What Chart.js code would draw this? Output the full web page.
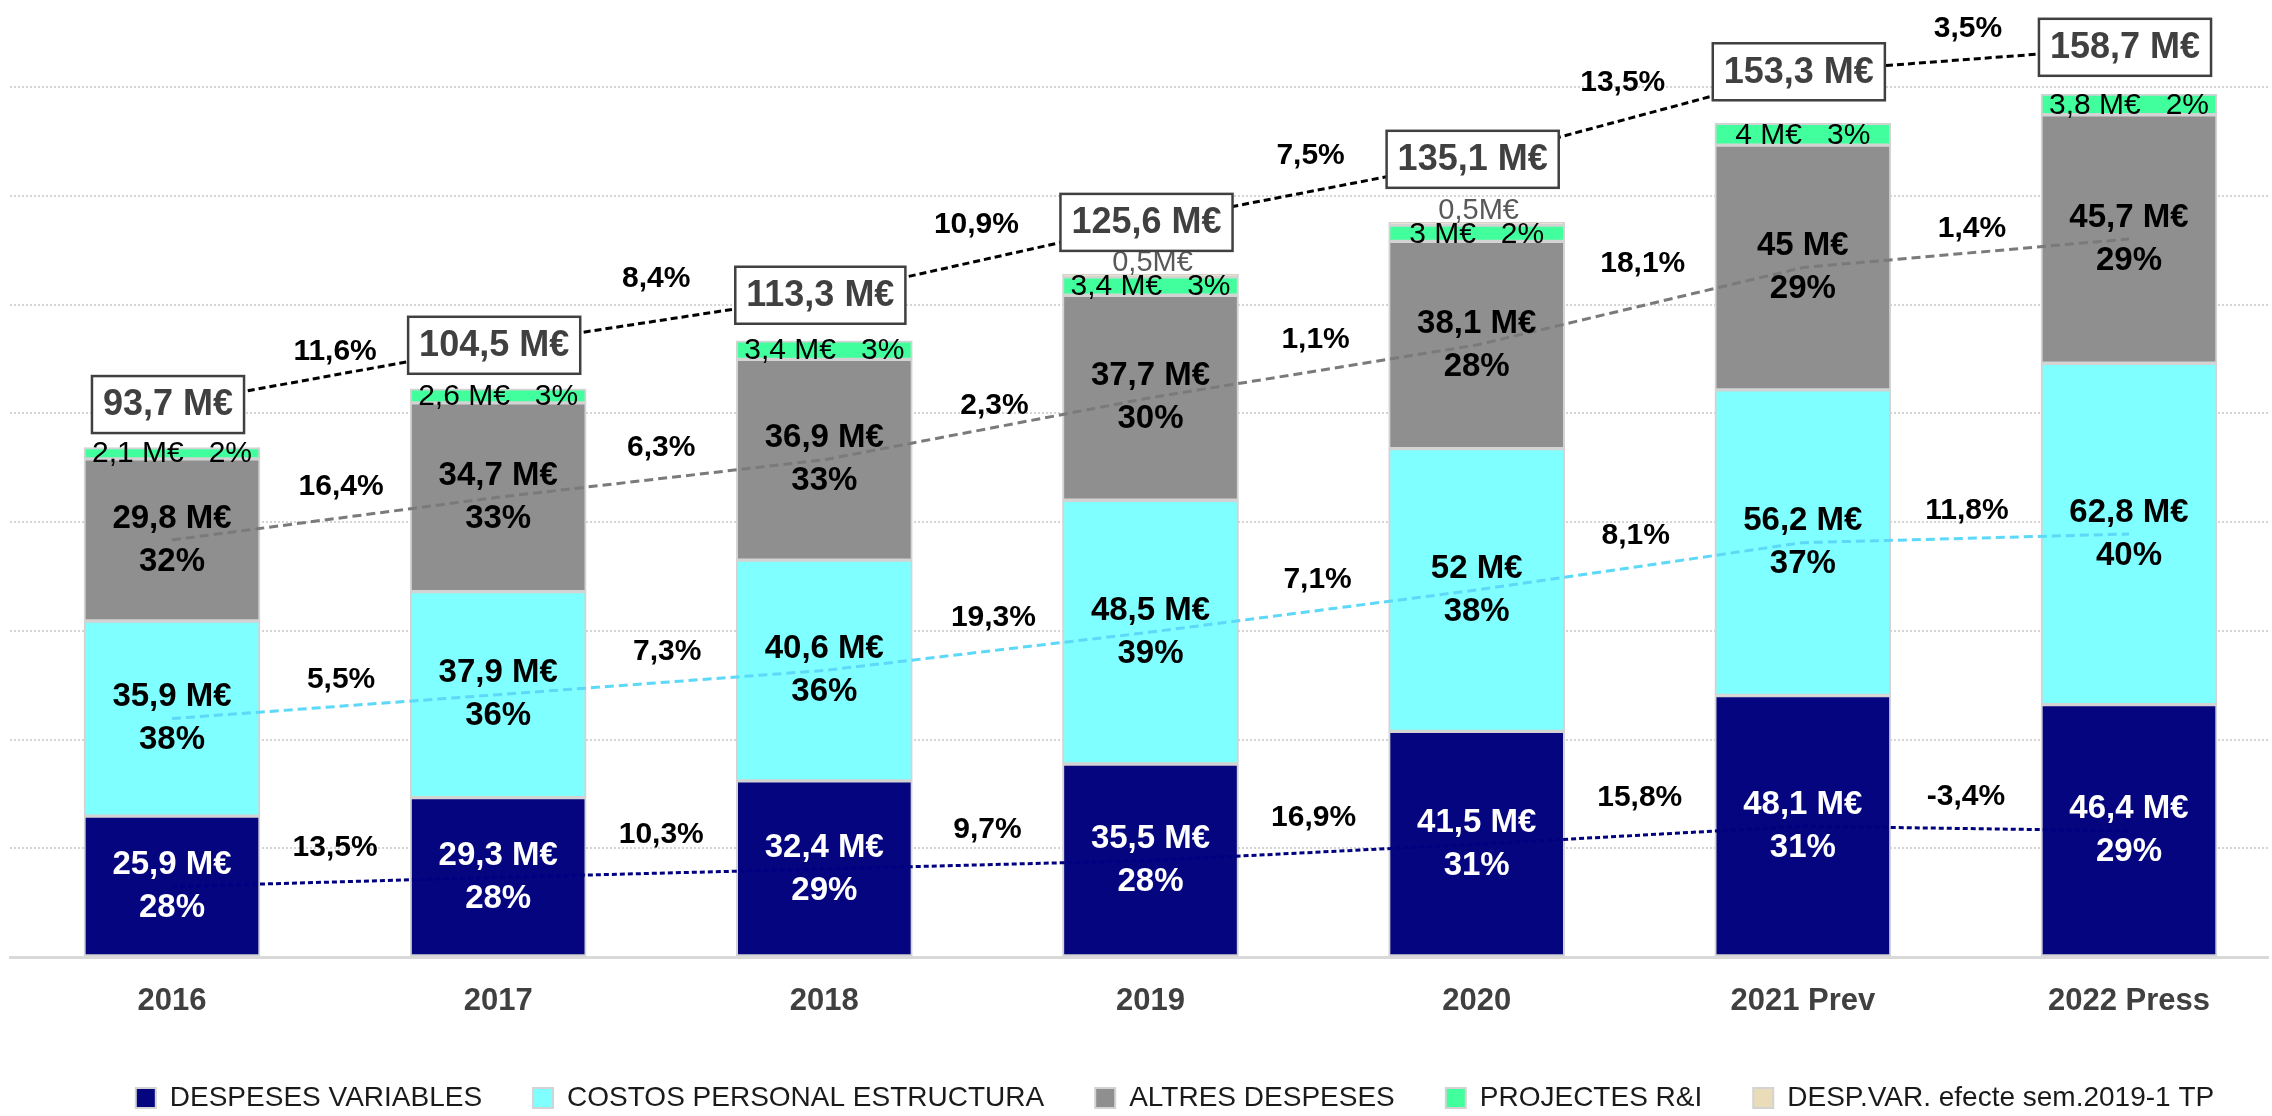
<!DOCTYPE html>
<html>
<head>
<meta charset="utf-8">
<script src="https://cdn.jsdelivr.net/npm/chart.js@4/dist/chart.umd.min.js"></script>
<style>
  html, body { margin: 0; padding: 0; background: #ffffff; }
  #wrap { width: 2272px; height: 1116px; }
</style>
</head>
<body>
<div id="wrap"><canvas id="c" width="2272" height="1116"></canvas></div>
<script>
// ---------- DATA ----------
const categories = ['2016', '2017', '2018', '2019', '2020', '2021 Prev', '2022 Press'];
const despesesVariables = [25.9, 29.3, 32.4, 35.5, 41.5, 48.1, 46.4];
const costosPersonal   = [35.9, 37.9, 40.6, 48.5, 52, 56.2, 62.8];
const altresDespeses   = [29.8, 34.7, 36.9, 37.7, 38.1, 45, 45.7];
const projectesRI      = [2.1, 2.6, 3.4, 3.4, 3, 4, 3.8];
const despVarEfecte    = [null, null, null, 0.5, 0.5, null, null];
const totals           = [93.7, 104.5, 113.3, 125.6, 135.1, 153.3, 158.7];
// level of the dashed total line (where the total boxes sit)
const totalLine        = [101.6, 112.5, 121.7, 135.1, 146.7, 162.8, 167.3];

const pctDespeses  = ['28%', '28%', '29%', '28%', '31%', '31%', '29%'];
const pctCostos    = ['38%', '36%', '36%', '39%', '38%', '37%', '40%'];
const pctAltres    = ['32%', '33%', '33%', '30%', '28%', '29%', '29%'];
const pctProjectes = ['2%', '3%', '3%', '3%', '2%', '3%', '2%'];

const growthDespeses = ['13,5%', '10,3%', '9,7%', '16,9%', '15,8%', '-3,4%'];
const growthCostos   = ['5,5%', '7,3%', '19,3%', '7,1%', '8,1%', '11,8%'];
const growthAltres   = ['16,4%', '6,3%', '2,3%', '1,1%', '18,1%', '1,4%'];
const growthTotal    = ['11,6%', '8,4%', '10,9%', '7,5%', '13,5%', '3,5%'];

// ---------- LAYOUT / STYLE (not data) ----------
const FONT = "'Liberation Sans', Arial, sans-serif";
const labelLayout = {
  despeses: { dy: [-34, -38, -35, -35, -37, -32], dx: [0, 0, 0, 0, 0, 0] },
  costos:   { dy: [-27, -31, -34, -31, -31, -28], dx: [6, 6, 6, 4, -4, 1] },
  altres:   { dy: [-32, -31, -23, -32, -43, -25], dx: [6, 0, 7, 2, 3, 6] },
  total:    { dy: [-23, -42, -34, -35, -33, -31], dx: [0, -5, -11, -3, -17, 2] }
};

const fmt = v => String(v).replace('.', ',');

// derived series (midpoints of stacked segments, for the dashed trend lines)
const midDespeses = despesesVariables.map(v => v / 2);
const midCostos = costosPersonal.map((v, i) => despesesVariables[i] + v / 2);
const midAltres = altresDespeses.map((v, i) => despesesVariables[i] + costosPersonal[i] + v / 2);
const xy = arr => arr.map((v, i) => ({ x: i, y: v }));

const barBorder = '#d3d3d3';
function barDs(label, data, color) {
  return {
    type: 'bar', label, data: xy(data), backgroundColor: color,
    borderColor: barBorder, borderWidth: 2, borderSkipped: false,
    barThickness: 176, order: 1
  };
}
function lineDs(label, data, color, dash, stack) {
  return {
    type: 'line', label, data: xy(data), borderColor: color, borderWidth: 3,
    borderDash: dash, pointRadius: 0, fill: false, tension: 0, order: 0, stack
  };
}

Chart.defaults.font.family = FONT;

const labelsPlugin = {
  id: 'labelsPlugin',
  afterDatasetsDraw(chart) {
    const ctx = chart.ctx;
    const xs = chart.scales.x, ys = chart.scales.y;
    const px = i => xs.getPixelForValue(i);
    const py = v => ys.getPixelForValue(v);
    ctx.save();
    ctx.textAlign = 'center';
    ctx.textBaseline = 'middle';

    categories.forEach((c, i) => {
      const x = px(i);
      const segs = [
        [despesesVariables[i], pctDespeses[i], '#ffffff', 0],
        [costosPersonal[i], pctCostos[i], '#000000', despesesVariables[i]],
        [altresDespeses[i], pctAltres[i], '#000000', despesesVariables[i] + costosPersonal[i]]
      ];
      ctx.font = 'bold 33px ' + FONT;
      segs.forEach(([v, p, col, base]) => {
        const y = py(base + v / 2);
        ctx.fillStyle = col;
        ctx.fillText(fmt(v) + ' M€', x, y - 21.5);
        ctx.fillText(p, x, y + 21.5);
      });
      const baseR = despesesVariables[i] + costosPersonal[i] + altresDespeses[i];
      ctx.font = '30px ' + FONT;
      ctx.fillStyle = '#000000';
      ctx.fillText(fmt(projectesRI[i]) + ' M€   ' + pctProjectes[i], x, py(baseR + projectesRI[i] / 2) + 1);
      if (despVarEfecte[i] != null) {
        ctx.font = '29px ' + FONT;
        ctx.fillStyle = '#595959';
        ctx.fillText(fmt(despVarEfecte[i]) + 'M€', x + 2, py(baseR + projectesRI[i] + despVarEfecte[i]) - 11);
      }
    });

    ctx.font = 'bold 30px ' + FONT;
    ctx.fillStyle = '#000000';
    const growthSets = [
      [growthDespeses, midDespeses, labelLayout.despeses],
      [growthCostos, midCostos, labelLayout.costos],
      [growthAltres, midAltres, labelLayout.altres],
      [growthTotal, totalLine, labelLayout.total]
    ];
    growthSets.forEach(([texts, mids, lay]) => {
      texts.forEach((t, k) => {
        const x = (px(k) + px(k + 1)) / 2 + lay.dx[k];
        const y = (py(mids[k]) + py(mids[k + 1])) / 2 + lay.dy[k];
        ctx.fillText(t, x, y);
      });
    });

    ctx.font = 'bold 36px ' + FONT;
    totals.forEach((t, i) => {
      const txt = fmt(t) + ' M€';
      const tw = ctx.measureText(txt).width;
      const w = tw + 22, h = 57;
      const cx = px(i) - 4, cy = py(totalLine[i]);
      ctx.fillStyle = '#ffffff';
      ctx.fillRect(cx - w / 2, cy - h / 2, w, h);
      ctx.lineWidth = 2.5;
      ctx.strokeStyle = '#404040';
      ctx.strokeRect(cx - w / 2, cy - h / 2, w, h);
      ctx.fillStyle = '#404040';
      ctx.fillText(txt, cx, cy + 1);
    });
    ctx.restore();
  }
};

const legendShift = {
  id: 'legendShift',
  afterLayout(chart) {
    const L = chart.legend;
    if (!L || !L.lineWidths) return;
    const pad = L.options.labels.padding;
    const x0 = (L.left + pad + L.right - L.lineWidths[0]) / 2;
    const center = x0 + (L.lineWidths[0] - pad) / 2;
    const dx = 1175 - center;
    L.left += dx; L.right += dx;
    L.top += 6; L.bottom += 6;
  }
};

new Chart(document.getElementById('c'), {
  type: 'bar',
  data: {
    datasets: [
      barDs('DESPESES VARIABLES', despesesVariables, '#05057f'),
      barDs('COSTOS PERSONAL ESTRUCTURA', costosPersonal, '#7fffff'),
      barDs('ALTRES DESPESES', altresDespeses, '#8f8f8f'),
      barDs('PROJECTES R&I', projectesRI, '#40ff9c'),
      barDs('DESP.VAR. efecte sem.2019-1 TP', despVarEfecte, '#eadcb8'),
      lineDs('tendència despeses', midDespeses, '#000080', [5, 3], 'l1'),
      lineDs('tendència costos', midCostos, '#5cd8f8', [9, 5], 'l2'),
      lineDs('tendència altres', midAltres, '#7a7a7a', [9, 5], 'l3'),
      lineDs('tendència total', totalLine, '#000000', [7, 4], 'l4')
    ]
  },
  options: {
    responsive: false,
    animation: false,
    devicePixelRatio: 1,
    layout: { padding: { left: 10, right: 4, top: 0, bottom: 0 } },
    plugins: {
      tooltip: { enabled: false },
      legend: {
        position: 'bottom',
        labels: {
          filter: item => item.datasetIndex < 5,
          font: { size: 28, family: FONT },
          color: '#1a1a1a',
          boxWidth: 20, boxHeight: 20,
          padding: 51
        }
      }
    },
    scales: {
      x: {
        type: 'linear',
        min: -0.4967, max: 6.4262,
        offset: false,
        stacked: true,
        grid: { display: false, drawTicks: false, offset: false },
        border: { display: true, color: '#d9d9d9', width: 3 },
        afterBuildTicks: s => { s.ticks = categories.map((_, i) => ({ value: i })); },
        afterFit: s => { s.height = 70; },
        ticks: {
          autoSkip: false, maxRotation: 0, padding: 26,
          color: '#404040',
          font: { size: 31, weight: 'bold', family: FONT },
          callback: v => categories[v] !== undefined ? categories[v] : ''
        }
      },
      y: {
        min: 0, max: 176, stacked: true,
        grid: { color: '#d4d4d4', lineWidth: 2, drawTicks: false },
        border: { display: false, dash: [2, 2] },
        ticks: { display: false, stepSize: 20, includeBounds: false }
      }
    }
  },
  plugins: [labelsPlugin, legendShift]
});
</script>
</body>
</html>
